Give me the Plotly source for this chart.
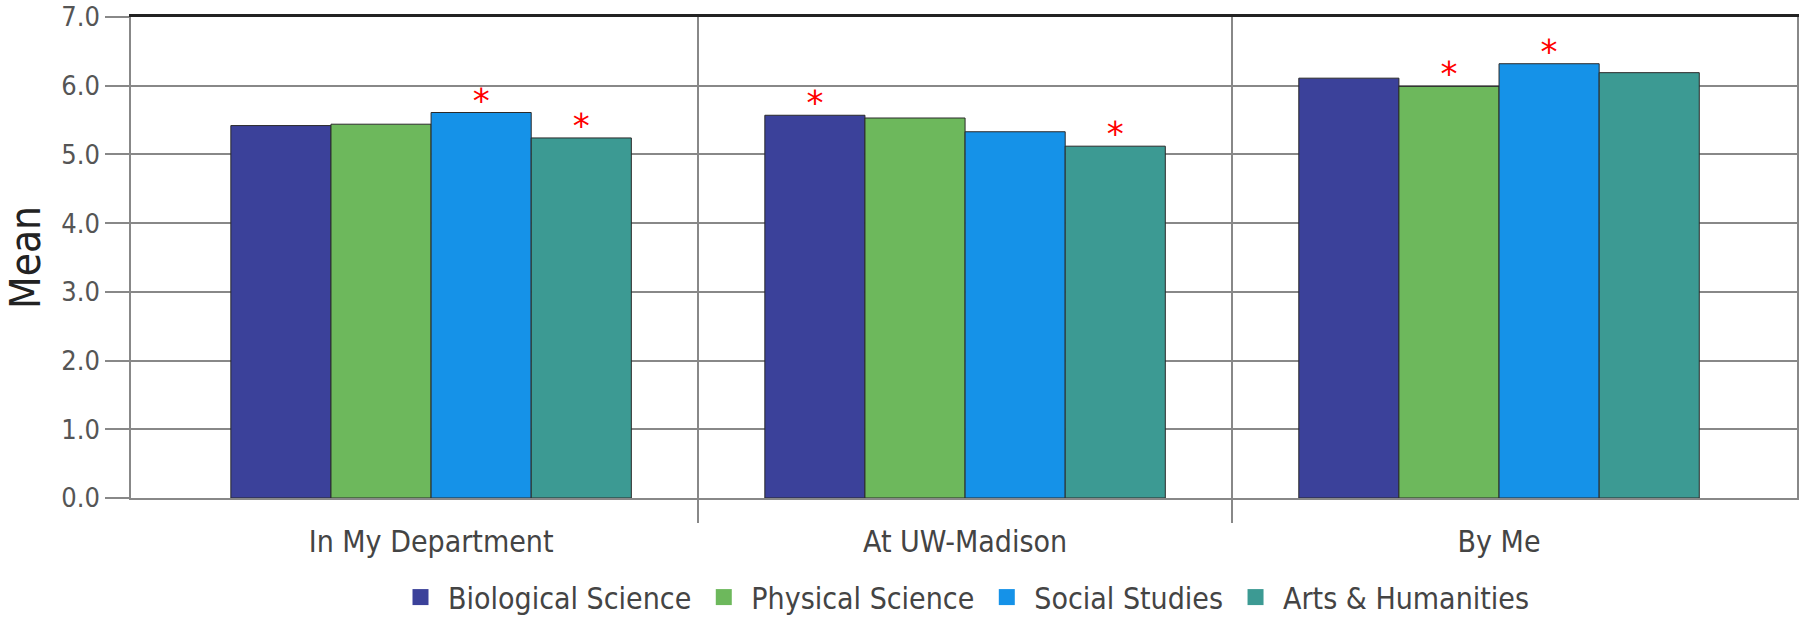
import plotly.graph_objects as go

categories = ["In My Department", "At UW-Madison", "By Me"]
series_names = ["Biological Science", "Physical Science", "Social Studies", "Arts & Humanities"]
bio = [5.42, 5.57, 6.11]
phys = [5.44, 5.53, 5.99]
social = [5.61, 5.33, 6.32]
arts = [5.24, 5.12, 6.19]
# significance markers (1 = asterisk shown)
bio_sig = [0, 1, 0]
phys_sig = [0, 0, 1]
social_sig = [1, 0, 1]
arts_sig = [1, 1, 0]
y_ticks = [0, 1, 2, 3, 4, 5, 6, 7]

colors = ["#3B419A", "#6DB85C", "#1592E8", "#3C9A93"]
values = [bio, phys, social, arts]
sigs = [bio_sig, phys_sig, social_sig, arts_sig]

FONT = "DejaVu Sans Condensed, DejaVu Sans"
fig = go.Figure()
for name, vals, sig, col in zip(series_names, values, sigs, colors):
    fig.add_trace(go.Bar(
        name=name, x=categories, y=vals, legendgroup=name, showlegend=False,
        marker=dict(color=col, line=dict(color="#2a2a2a", width=1)),
        text=["*" if s else "" for s in sig],
        textposition="outside", textangle=180,
        textfont=dict(color="#FF0000", size=34, family="DejaVu Sans"),
        cliponaxis=False,
        hoverinfo="x+y+name",
    ))
# legend entries with larger square swatches
for name, col in zip(series_names, colors):
    fig.add_trace(go.Scatter(
        name=name, x=[None], y=[None], mode="markers", legendgroup=name,
        marker=dict(symbol="square", size=40, color=col, line=dict(width=0)),
        showlegend=True, hoverinfo="skip",
    ))

fig.update_layout(
    width=1800, height=621,
    margin=dict(l=131, r=3, t=17, b=123, autoexpand=False),
    paper_bgcolor="white", plot_bgcolor="white",
    barmode="group", bargap=0.25, bargroupgap=0,
    font=dict(family=FONT, color="#555555"),
    showlegend=True,
    legend=dict(orientation="h", x=0.5, xanchor="center", y=-0.206, yanchor="middle",
                font=dict(size=30, color="#444444", family=FONT),
                itemsizing="trace", itemwidth=45, tracegroupgap=0),
    xaxis=dict(type="category", range=[-0.562, 2.558], showgrid=False,
               ticks="outside", ticklen=16, tickcolor="rgba(0,0,0,0)",
               tickfont=dict(size=30, color="#444444", family=FONT),
               showline=True, linecolor="#888888", linewidth=1.5, zeroline=False),
    xaxis2=dict(overlaying="x", anchor="y", side="bottom", range=[-0.562, 2.558],
                tickvals=[0.5, 1.5], showticklabels=False, ticks="outside", ticklen=24,
                tickcolor="#888888", tickwidth=1.5, showgrid=True, gridcolor="#888888",
                gridwidth=1.5, zeroline=False, showline=False),
    xaxis3=dict(overlaying="x", anchor="y", side="top", range=[-0.562, 2.558],
                showticklabels=False, ticks="", showgrid=False, zeroline=False,
                showline=True, linecolor="#222222", linewidth=2.5),
    yaxis=dict(range=[0, 7], tickvals=y_ticks, tickformat=".1f",
               ticks="outside", ticklen=24, tickcolor="#888888", tickwidth=1.5,
               tickfont=dict(size=27, color="#555555", family=FONT),
               ticklabeloverflow="allow",
               showgrid=True, gridcolor="#888888", gridwidth=1.5,
               showline=True, linecolor="#888888", linewidth=1.5, mirror=True,
               zeroline=False,
               title=dict(text="Mean", font=dict(size=42, color="#222222", family=FONT), standoff=8)),
)
# invisible traces to activate overlay axes
fig.add_trace(go.Scatter(x=[0.5], y=[0], xaxis="x2", yaxis="y", mode="markers",
                         marker=dict(opacity=0), showlegend=False, hoverinfo="skip"))
fig.add_trace(go.Scatter(x=[0.5], y=[0], xaxis="x3", yaxis="y", mode="markers",
                         marker=dict(opacity=0), showlegend=False, hoverinfo="skip"))

fig.write_html("out.html", config={"displayModeBar": False},
               post_script="document.body.style.margin='0px';")
